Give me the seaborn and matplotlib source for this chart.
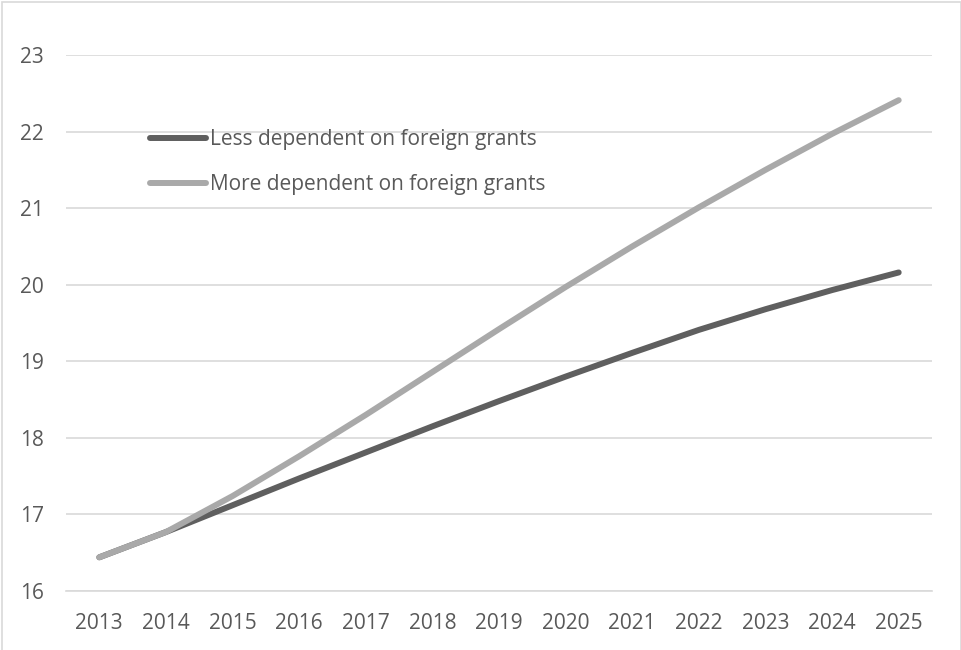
import matplotlib
matplotlib.use("Agg")
import matplotlib.pyplot as plt
import numpy as np
import pandas as pd
import seaborn as sns
from matplotlib.patches import Rectangle

# values
years = [2013, 2014, 2015, 2016, 2017, 2018, 2019, 2020, 2021, 2022, 2023, 2024, 2025]
less_dependent = [16.44, 16.77, 17.12, 17.47, 17.81, 18.15, 18.48, 18.80, 19.11, 19.41, 19.68, 19.93, 20.16]
more_dependent = [16.44, 16.77, 17.24, 17.76, 18.30, 18.86, 19.42, 19.97, 20.50, 21.01, 21.50, 21.97, 22.41]
series_names = ["Less dependent on foreign grants", "More dependent on foreign grants"]
series_colors = ["#5f5f5f", "#a9a9a9"]
y_ticks = [16, 17, 18, 19, 20, 21, 22, 23]

TEXT = "#595959"
GRID = "#d9d9d9"

df = pd.concat([
    pd.DataFrame({"year": years, "value": less_dependent, "series": series_names[0]}),
    pd.DataFrame({"year": years, "value": more_dependent, "series": series_names[1]}),
])

sns.set_style("white")
plt.rcParams["font.family"] = ["Open Sans", "DejaVu Sans"]

fig = plt.figure(figsize=(9.62, 6.5), dpi=100)
ax = fig.add_axes([66 / 962, 59 / 650, 866 / 962, 536 / 650])

sns.lineplot(
    data=df, x="year", y="value", hue="series",
    hue_order=series_names, palette=series_colors,
    linewidth=4.3, ax=ax, legend=False,
    solid_capstyle="round", solid_joinstyle="round",
)

ax.set_xlim(years[0] - 0.5, years[-1] + 0.5)
ax.set_ylim(y_ticks[0], y_ticks[-1])
ax.set_xticks(years)
ax.set_xticklabels([str(y) for y in years])
ax.set_yticks(y_ticks)
ax.set_xlabel("")
ax.set_ylabel("")
ax.yaxis.grid(True, color=GRID, linewidth=1.2)
ax.set_axisbelow(True)
for s in ["top", "right", "left"]:
    ax.spines[s].set_visible(False)
ax.spines["bottom"].set_color(GRID)
ax.spines["bottom"].set_linewidth(1.2)
ax.tick_params(axis="both", length=0, labelsize=15, colors=TEXT)
ax.tick_params(axis="y", pad=16)
ax.tick_params(axis="x", pad=16)

handles = [plt.Line2D([], [], color=c, linewidth=4.3, solid_capstyle="round") for c in series_colors]
leg = fig.legend(
    handles, series_names, loc="upper left",
    bbox_to_anchor=(150 / 962, 1 - 129 / 650),
    frameon=False, fontsize=15, handlelength=2.7, handletextpad=0.2,
    labelspacing=1.15, borderpad=0, borderaxespad=0,
)
for t in leg.get_texts():
    t.set_color(TEXT)

# thin outer chart border
fig.patches.append(Rectangle((2 / 962, -0.01), 958.5 / 962, 1 - 2 / 650 + 0.01,
                             transform=fig.transFigure, fill=False,
                             edgecolor=GRID, linewidth=1.2))

fig.savefig("out.png", dpi=100)
